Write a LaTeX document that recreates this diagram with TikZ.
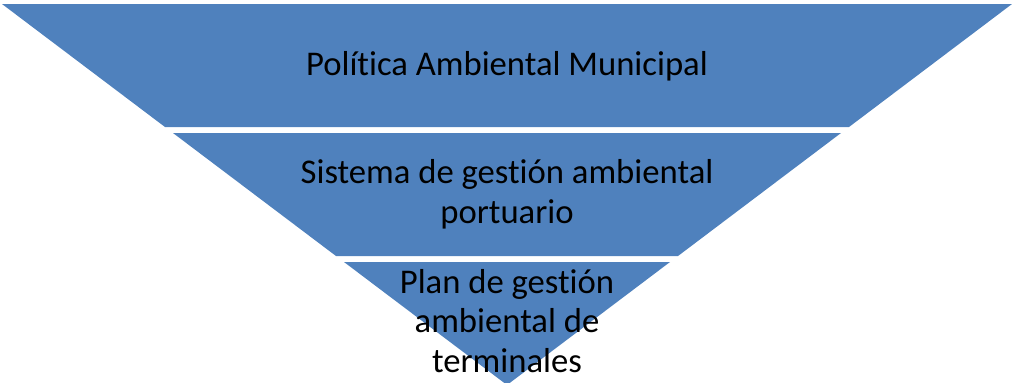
\documentclass[tikz,border=0pt]{standalone}
\usepackage{fontspec}
\setmainfont{Carlito}[Ligatures=NoCommon]
\definecolor{bandblue}{HTML}{4F81BD}
\tikzset{band/.style={fill=bandblue},
  label/.style={align=center, text=black, inner sep=0pt, anchor=base,
                font=\fontsize{26}{29.5}\selectfont}}
\begin{document}
\begin{tikzpicture}[x=0.75pt, y=-0.75pt]
      \useasboundingbox (0, 0) rectangle (1012, 382);
      \clip (0, 0) rectangle (1012, 382);
      % the three bands of the inverted pyramid
      \fill [band] (2, 4) -- (1012, 4) -- (849, 127) -- (165, 127) -- cycle;
      \fill [band] (173, 133) -- (841, 133) -- (678, 256) -- (336, 256) -- cycle;
      \fill [band] (344, 262) -- (670, 262) -- (507, 385) -- cycle;
      % labels, placed by the baseline of their last line
      \node (politica) [label] at (507, 75) {Política Ambiental Municipal};
      \node (sistema) [label] at (507, 223) {Sistema de gestión ambiental\\portuario};
      \node (plan) [label] at (507, 372) {Plan de gestión\\ambiental de\\terminales};
\end{tikzpicture}
\end{document}
